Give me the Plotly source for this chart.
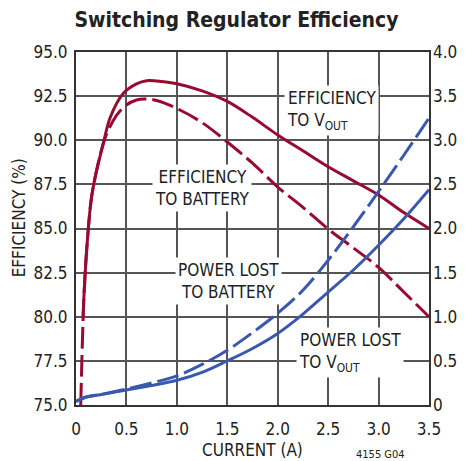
import plotly.graph_objects as go

# ---- data ----
eff_vout_x = [0.07, 0.08, 0.106, 0.15, 0.19, 0.27, 0.34, 0.47, 0.6, 0.7, 0.85, 1.0, 1.25, 1.5, 1.75, 2.0, 2.25, 2.5, 2.75, 3.0, 3.25, 3.5]
eff_vout_y = [80.0, 81.3, 83.8, 86.6, 87.9, 89.8, 91.3, 92.66, 93.19, 93.37, 93.33, 93.2, 92.8, 92.2, 91.3, 90.3, 89.4, 88.5, 87.7, 86.9, 85.9, 85.0]

eff_batt_x = [0.047, 0.063, 0.08, 0.106, 0.15, 0.19, 0.25, 0.3, 0.4, 0.5, 0.6, 0.7, 0.8, 1.0, 1.25, 1.5, 1.75, 2.0, 2.25, 2.5, 2.75, 3.0, 3.25, 3.5]
eff_batt_y = [75.0, 78.5, 81.3, 83.8, 86.6, 87.9, 89.4, 90.3, 91.4, 92.0, 92.28, 92.33, 92.25, 91.8, 91.0, 89.9, 88.7, 87.35, 86.2, 84.97, 83.9, 82.8, 81.4, 80.0]

loss_x = [0.0, 0.1, 0.25, 0.5, 0.75, 1.0, 1.25, 1.5, 1.75, 2.0, 2.25, 2.5, 2.75, 3.0, 3.25, 3.5]
loss_vout = [0.04, 0.09, 0.12, 0.17, 0.22, 0.28, 0.37, 0.50, 0.64, 0.81, 1.03, 1.28, 1.53, 1.81, 2.11, 2.44]
loss_batt = [0.04, 0.09, 0.12, 0.18, 0.25, 0.33, 0.46, 0.62, 0.82, 1.04, 1.30, 1.64, 2.02, 2.42, 2.83, 3.25]

x_ticks = [0, 0.5, 1.0, 1.5, 2.0, 2.5, 3.0, 3.5]
x_ticktext = ["0", "0.5", "1.0", "1.5", "2.0", "2.5", "3.0", "3.5"]
y_ticks = [75, 77.5, 80, 82.5, 85, 87.5, 90, 92.5, 95]
y_ticktext = ["75.0", "77.5", "80.0", "82.5", "85.0", "87.5", "90.0", "92.5", "95.0"]
y2_ticks = [0, 0.5, 1.0, 1.5, 2.0, 2.5, 3.0, 3.5, 4.0]
y2_ticktext = ["0", "0.5", "1.0", "1.5", "2.0", "2.5", "3.0", "3.5", "4.0"]

RED = "#990a30"
BLUE = "#3a58ae"
FONT = "Liberation Sans Narrow, DejaVu Sans Condensed, Arial Narrow, sans-serif"
DASH = "22px,6px"
TXT = "#222"

fig = go.Figure()
fig.add_trace(go.Scatter(x=eff_batt_x, y=eff_batt_y, mode="lines",
                         line=dict(color=RED, width=3, dash=DASH, shape="spline"), yaxis="y"))
fig.add_trace(go.Scatter(x=eff_vout_x, y=eff_vout_y, mode="lines",
                         line=dict(color=RED, width=3, shape="spline"), yaxis="y"))
fig.add_trace(go.Scatter(x=loss_x, y=loss_batt, mode="lines",
                         line=dict(color=BLUE, width=3, dash=DASH, shape="spline"), yaxis="y2"))
fig.add_trace(go.Scatter(x=loss_x, y=loss_vout, mode="lines",
                         line=dict(color=BLUE, width=3, shape="spline"), yaxis="y2"))

ann_font = dict(family=FONT, size=17, color=TXT)
annotations = [
    dict(x=2.06, y=91.66, xref="x", yref="y", text="EFFICIENCY<br>TO V<sub>OUT</sub>",
         xanchor="left", align="left", showarrow=False, bgcolor="white", font=ann_font, borderpad=2),
    dict(x=1.25, y=87.3, xref="x", yref="y", text="EFFICIENCY<br>TO BATTERY",
         xanchor="center", align="center", showarrow=False, bgcolor="white", font=ann_font, borderpad=2),
    dict(x=1.51, y=82.03, xref="x", yref="y", text="POWER LOST<br>TO BATTERY",
         xanchor="center", align="center", showarrow=False, bgcolor="white", font=ann_font, borderpad=2),
    dict(x=2.18, y=78.0, xref="x", yref="y", text="POWER LOST<br>TO V<sub>OUT</sub>",
         xanchor="left", align="left", showarrow=False, bgcolor="white", font=ann_font, borderpad=2),
    dict(x=0.938, y=-0.139, xref="paper", yref="paper", text="4155 G04",
         showarrow=False, yanchor="middle", font=dict(family=FONT, size=11, color=TXT)),
    dict(x=0.5, y=-0.127, xref="paper", yref="paper", text="CURRENT (A)",
         showarrow=False, yanchor="middle", font=dict(family=FONT, size=17, color=TXT)),
    dict(x=-0.163, y=0.53, xref="paper", yref="paper", text="EFFICIENCY (%)", textangle=-90,
         showarrow=False, xanchor="center", yanchor="middle", font=dict(family=FONT, size=17, color=TXT)),
]

axis_common = dict(showgrid=True, gridcolor="#555", gridwidth=1.5, showline=True, linecolor="#333",
                   linewidth=2, mirror=True, zeroline=False, ticks="", automargin=False)

# the page body adds an 8px offset, so the figure is a bit smaller and margins are shifted
fig.update_layout(
    width=457, height=453,
    margin=dict(l=68, r=36, t=44, b=56),
    paper_bgcolor="white", plot_bgcolor="white",
    showlegend=False,
    font=dict(family=FONT, size=17, color=TXT),
    title=dict(text="<b>Switching Regulator Efficiency</b>", x=0.5, xanchor="center",
               y=0.975, yanchor="middle", font=dict(family=FONT, size=21, color=TXT)),
    xaxis=dict(range=[0, 3.5], tickvals=x_ticks, ticktext=x_ticktext, ticklabelstandoff=8, **axis_common),
    yaxis=dict(range=[75, 95], tickvals=y_ticks, ticktext=y_ticktext, ticklabelstandoff=3, **axis_common),
    yaxis2=dict(range=[0, 4], tickvals=y2_ticks, ticktext=y2_ticktext, overlaying="y",
                side="right", showgrid=False, zeroline=False, showline=False, ticks="",
                automargin=False, ticklabelstandoff=3),
    annotations=annotations,
)

fig.write_html("out.html")
